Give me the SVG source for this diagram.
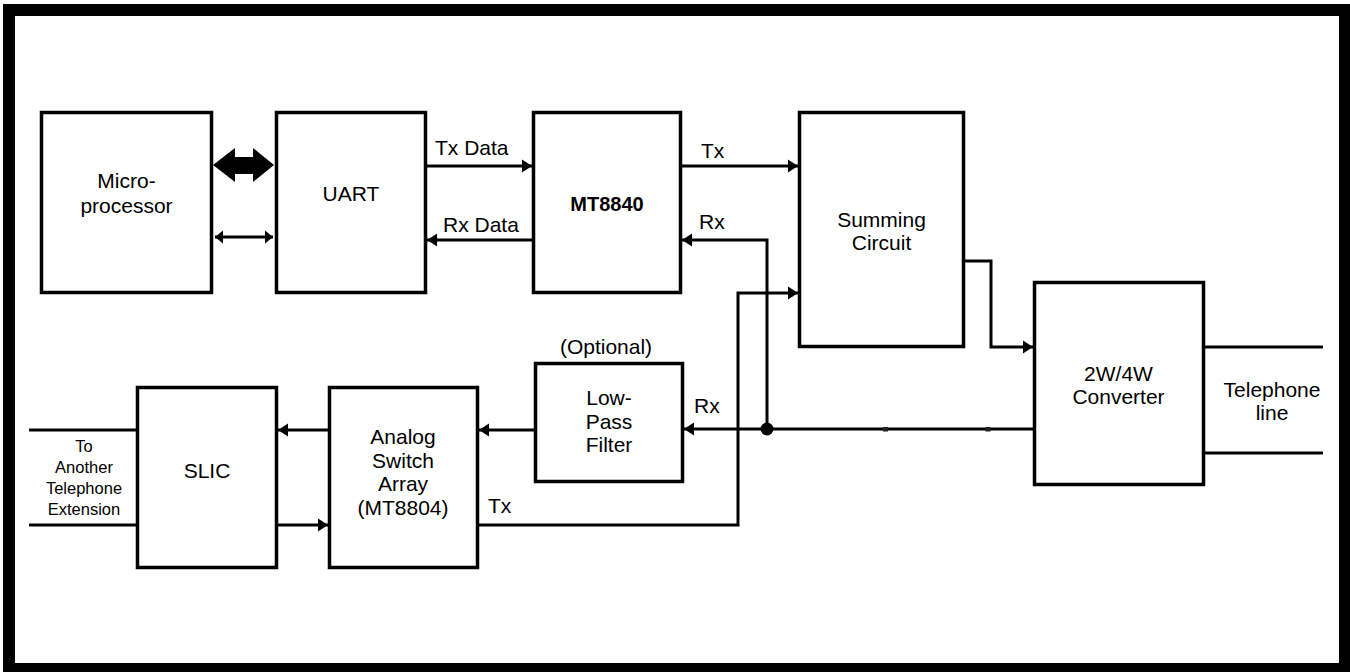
<svg xmlns="http://www.w3.org/2000/svg" width="1350" height="672" viewBox="0 0 1350 672">
<style>
.box{fill:#fff;stroke:#000;stroke-width:3.5}
.ln{fill:none;stroke:#000;stroke-width:3}
.arr{marker-end:url(#ah)}
text{font-family:"Liberation Sans",Arial,Helvetica,sans-serif;font-size:21px;fill:#000}
.c{text-anchor:middle}
.b{font-weight:bold;font-size:20px}
.s{font-size:16.5px}
</style>
<defs>
<marker id="ah" markerUnits="userSpaceOnUse" markerWidth="12" markerHeight="14" refX="10" refY="7" orient="auto">
<path d="M0,0.5 L10,7 L0,13.5 z" fill="#000"/>
</marker>
<marker id="ahs" markerUnits="userSpaceOnUse" markerWidth="10" markerHeight="14" refX="8" refY="7" orient="auto-start-reverse">
<path d="M0,0.5 L8,7 L0,13.5 z" fill="#000"/>
</marker>
</defs>
<rect x="9" y="10" width="1336" height="659" fill="#fff" stroke="#000" stroke-width="12"/>

<g id="connectors">
<polygon points="213,165 235,148 235,157 253,157 253,148 274,165 253,182 253,174 235,174 235,182" fill="#000"/>
<line class="ln" x1="215" y1="237" x2="273" y2="237" marker-start="url(#ahs)" marker-end="url(#ahs)"/>
<line class="ln arr" x1="427" y1="166" x2="532" y2="166"/>
<line class="ln arr" x1="532" y1="240" x2="427" y2="240"/>
<line class="ln arr" x1="682" y1="166" x2="798" y2="166"/>
<path class="ln arr" d="M767,429 V240 H682"/>
<path class="ln arr" d="M478,525 H738 V293 H798"/>
<path class="ln arr" d="M965,261 H991 V347 H1033"/>
<path class="ln arr" d="M1033,429 H684"/>
<circle cx="767" cy="429" r="6.5" fill="#000"/>
<rect x="883" y="427" width="5" height="4.5" fill="#222"/>
<rect x="985.5" y="427" width="5" height="4.5" fill="#222"/>
<path class="ln arr" d="M534,430 H479"/>
<path class="ln arr" d="M328,430 H278"/>
<path class="ln arr" d="M278,525 H328"/>
<path class="ln" d="M29,430 H137 M29,525 H137"/>
<path class="ln" d="M1205,347 H1323 M1205,453 H1323"/>
</g>

<g id="microprocessor">
<rect class="box" x="41.5" y="112.5" width="170" height="180"/>
<text class="c" x="126.5" y="188">Micro-</text>
<text class="c" x="126.5" y="213">processor</text>
</g>
<g id="uart">
<rect class="box" x="276.5" y="112.5" width="149" height="180"/>
<text class="c" x="351" y="201">UART</text>
</g>
<g id="mt8840">
<rect class="box" x="533.5" y="112.5" width="147" height="180"/>
<text class="c b" x="607" y="211">MT8840</text>
</g>
<g id="summing">
<rect class="box" x="799.5" y="112.5" width="164" height="234"/>
<text class="c" x="881.5" y="226.5">Summing</text>
<text class="c" x="881.5" y="250">Circuit</text>
</g>
<g id="converter">
<rect class="box" x="1034.5" y="282.5" width="169" height="202"/>
<text class="c" x="1118.5" y="381">2W/4W</text>
<text class="c" x="1118.5" y="404">Converter</text>
</g>
<g id="lpf">
<rect class="box" x="535.5" y="363.5" width="147" height="118"/>
<text class="c" x="609" y="405">Low-</text>
<text class="c" x="609" y="428.5">Pass</text>
<text class="c" x="609" y="452">Filter</text>
</g>
<g id="analog">
<rect class="box" x="329.5" y="387.5" width="148" height="180"/>
<text class="c" x="403" y="444">Analog</text>
<text class="c" x="403" y="467.5">Switch</text>
<text class="c" x="403" y="491">Array</text>
<text class="c" x="403" y="514.5">(MT8804)</text>
</g>
<g id="slic">
<rect class="box" x="137.5" y="387.5" width="139" height="180"/>
<text class="c" x="207" y="478">SLIC</text>
</g>

<g id="labels">
<text x="435" y="155">Tx Data</text>
<text x="443" y="231.5">Rx Data</text>
<text x="701" y="158">Tx</text>
<text x="699" y="229">Rx</text>
<text class="c" x="606" y="354">(Optional)</text>
<text x="694" y="413">Rx</text>
<text x="488" y="512.5">Tx</text>
<text class="c" x="1272" y="396.5">Telephone</text>
<text class="c" x="1272" y="419.5">line</text>
<text class="c s" x="84" y="451.5">To</text>
<text class="c s" x="84" y="472.5">Another</text>
<text class="c s" x="84" y="493.5">Telephone</text>
<text class="c s" x="84" y="515">Extension</text>
</g>
</svg>
